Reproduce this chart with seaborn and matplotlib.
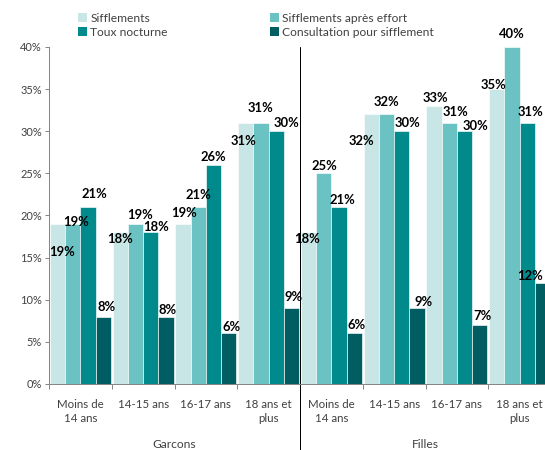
import matplotlib as mpl
mpl.use('Agg')
import matplotlib.pyplot as plt
from matplotlib.patches import Patch
import numpy as np
import pandas as pd
import seaborn as sns

# data
sexes = ['Garcons', 'Filles']
ages = ['Moins de\n14 ans', '14-15 ans', '16-17 ans', '18 ans et\nplus']
series = ['Sifflements', 'Sifflements après effort', 'Toux nocturne', 'Consultation pour sifflement']
sifflements = [19, 18, 19, 31, 18, 32, 33, 35]
sifflements_effort = [19, 19, 21, 31, 25, 32, 31, 40]
toux_nocturne = [21, 18, 26, 30, 21, 30, 30, 31]
consultation = [8, 8, 6, 9, 6, 9, 7, 12]
yticks = [0, 5, 10, 15, 20, 25, 30, 35, 40]

colors = ['#C9E6E6', '#6BC2C2', '#008A8C', '#005E62']

# label offsets (px) relative to bar top centre, Excel labels were dragged around
label_offsets = [
    [(4.5, -28), (0, -7), (1, 11), (-2, -18), (-1, -7), (-10, -27), (1, 8), (-3, 4)],
    [(3, 2), (4.5, 9), (0, 12), (0, 15), (1, 7.5), (0, 12.5), (6.5, 11), (0, 13)],
    [(6.5, 13), (5.5, 5), (0, 8), (10, 8), (3.5, 7), (6, 8.5), (10.5, 5.5), (3, 11)],
    [(3.5, 10), (1.5, 7), (2.5, 6.5), (2, 11), (2.5, 8.5), (6, 6), (3, 9), (-12.5, 7)],
]

def main():
    cats = [s + ' | ' + a for s in sexes for a in ages]
    values = [sifflements, sifflements_effort, toux_nocturne, consultation]
    rows = []
    for name, vals in zip(series, values):
        for c, v in zip(cats, vals):
            rows.append({'cat': c, 'serie': name, 'val': v})
    df = pd.DataFrame(rows)

    sns.set_style('white')
    plt.rcParams['font.family'] = ['Lato', 'DejaVu Sans']
    text_col = '#404040'
    axis_col = '#868686'

    fig = plt.figure(figsize=(545 / 72, 450 / 72), dpi=72)
    ax = fig.add_axes([49 / 545, 66 / 450, 502 / 545, 337 / 450])

    sns.barplot(data=df, x='cat', y='val', hue='serie', order=cats, hue_order=series,
                palette=colors, width=0.975, edgecolor='white', linewidth=0.6,
                saturation=1, legend=False, ax=ax)

    ax.set_xlim(-0.5, 7.5)
    ax.set_ylim(0, 40)
    ax.set_yticks(yticks)
    ax.set_yticklabels(['{}%'.format(t) for t in yticks], color=text_col, fontsize=11)
    ax.set_xticks(np.arange(-0.5, 8, 1))
    ax.set_xticklabels([])
    ax.set_xlabel('')
    ax.set_ylabel('')
    ax.tick_params(axis='x', direction='out', length=5, color=axis_col, width=1, bottom=True)
    ax.tick_params(axis='y', direction='out', length=4, color=axis_col, width=1, left=True, pad=3)
    for side in ['top', 'right']:
        ax.spines[side].set_visible(False)
    for side in ['left', 'bottom']:
        ax.spines[side].set_color(axis_col)
        ax.spines[side].set_linewidth(1)

    # value labels
    for i, cont in enumerate(ax.containers):
        for j, bar in enumerate(cont):
            h = bar.get_height()
            dx, dy = label_offsets[i][j]
            ax.annotate('{:.0f}%'.format(h), xy=(bar.get_x() + bar.get_width() / 2, h),
                        xytext=(dx, dy), textcoords='offset points', ha='center', va='center',
                        fontsize=13, fontweight='bold', color='black', annotation_clip=False)

    # category labels
    for i, c in enumerate(cats):
        ax.annotate(c.split(' | ')[1], xy=(i, 0), xycoords=('data', 'axes fraction'),
                    xytext=(0, -15), textcoords='offset points', ha='center', va='top',
                    fontsize=11.5, color=text_col, linespacing=1.3)
    for k, s in enumerate(sexes):
        ax.annotate(s, xy=(1.5 + 4 * k, 0), xycoords=('data', 'axes fraction'),
                    xytext=(0, -61), textcoords='offset points', ha='center', va='center',
                    fontsize=12, color=text_col)

    # separator between garcons and filles
    ax.axvline(3.5, ymin=-0.2, ymax=1, color='black', lw=1, clip_on=False)

    handles = [Patch(facecolor=c, edgecolor='none') for c in colors]
    leg_kw = dict(frameon=False, handlelength=0.75, handleheight=0.75, handletextpad=0.3,
                  labelspacing=0.25, fontsize=12, labelcolor=text_col, borderaxespad=0)
    fig.legend([handles[0], handles[2]], [series[0], series[2]], loc='upper left',
               bbox_to_anchor=(73 / 545, 1 - 8 / 450), **leg_kw)
    fig.legend([handles[1], handles[3]], [series[1], series[3]], loc='upper left',
               bbox_to_anchor=(265 / 545, 1 - 8 / 450), **leg_kw)

    fig.savefig('out.png', dpi=72)

if __name__ == '__main__':
    main()
